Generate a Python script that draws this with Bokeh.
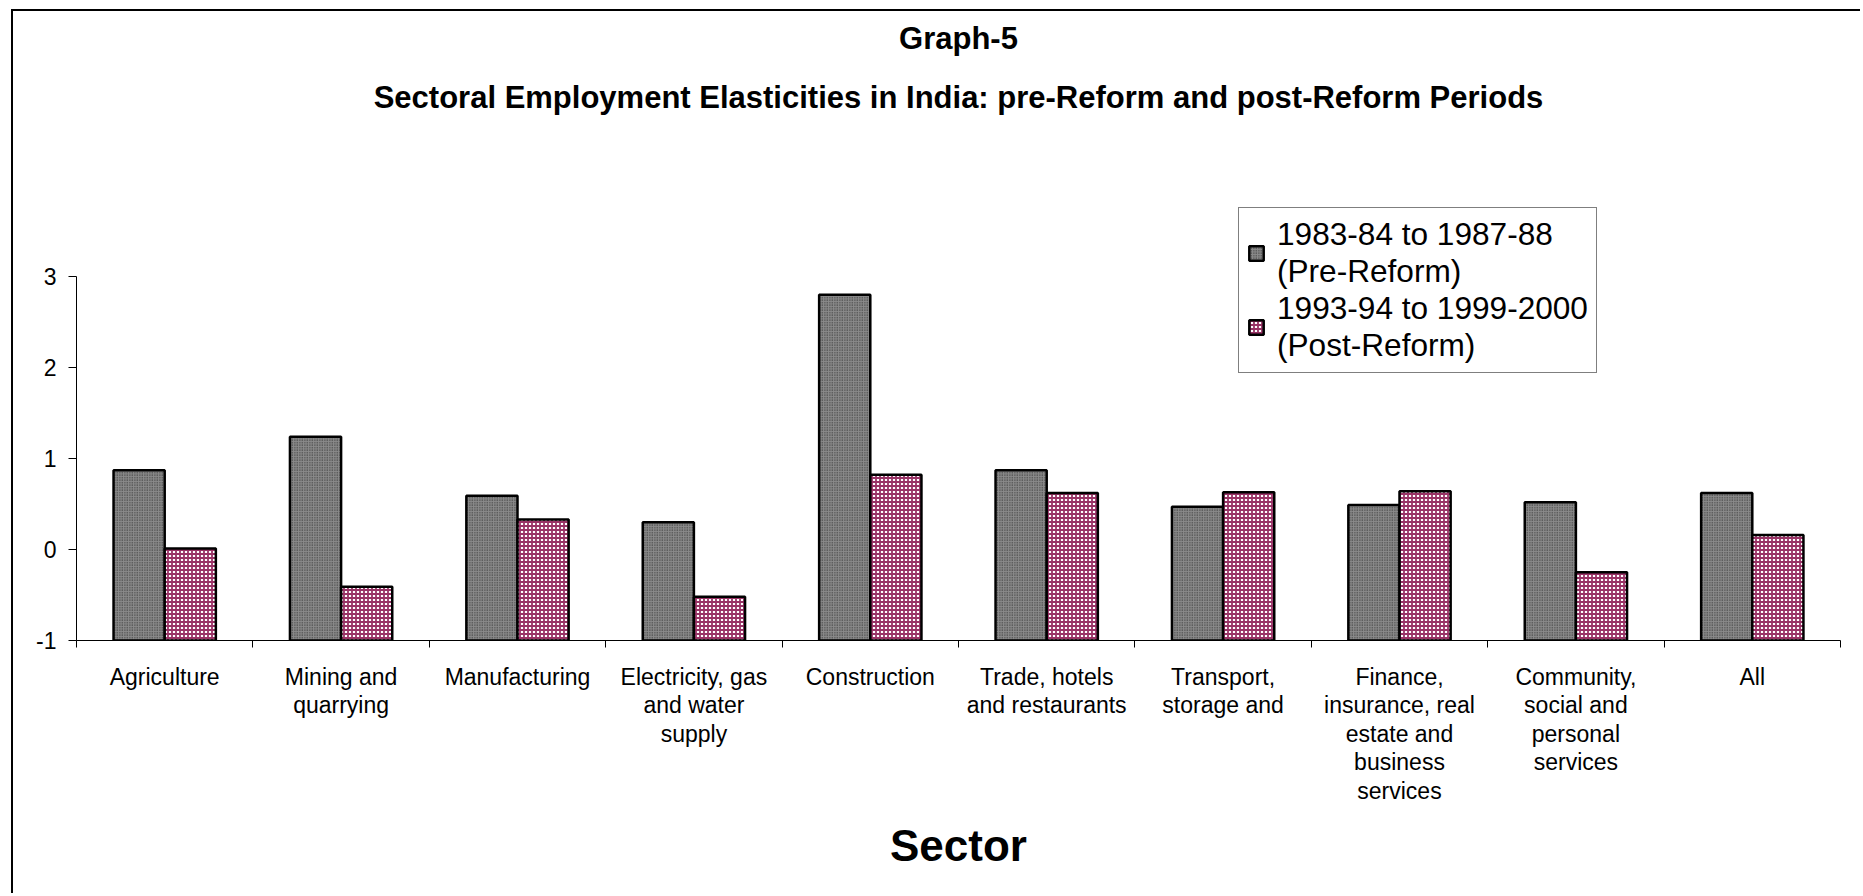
from bokeh.plotting import figure
from bokeh.models import Range1d, FixedTicker, Legend, LegendItem, Title, ColumnDataSource
from bokeh.embed import file_html
from bokeh.resources import INLINE

# ---------------- data ----------------
sectors = [
    "Agriculture",
    "Mining and\nquarrying",
    "Manufacturing",
    "Electricity, gas\nand water\nsupply",
    "Construction",
    "Trade, hotels\nand restaurants",
    "Transport,\nstorage and",
    "Finance,\ninsurance, real\nestate and\nbusiness\nservices",
    "Community,\nsocial and\npersonal\nservices",
    "All",
]
pre_reform = [0.87, 1.24, 0.59, 0.30, 2.80, 0.87, 0.47, 0.49, 0.52, 0.62]
post_reform = [0.01, -0.41, 0.33, -0.52, 0.82, 0.62, 0.63, 0.64, -0.25, 0.16]
series_labels = ["1983-84 to 1987-88\n(Pre-Reform)", "1993-94 to 1999-2000\n(Post-Reform)"]
y_ticks = [-1, 0, 1, 2, 3]
y_tick_labels = ["-1", "0", "1", "2", "3"]
title_main = "Graph-5"
title_sub = "Sectoral Employment Elasticities in India: pre-Reform and post-Reform Periods"
x_title = "Sector"

FONT = "Liberation Sans"
n = len(sectors)
centers = [i + 0.5 for i in range(n)]
bar_w = 0.29
axis_base = y_ticks[0]

pre_src = ColumnDataSource(dict(x=[c - bar_w / 2 for c in centers], top=pre_reform,
                                bottom=[axis_base] * n))
post_src = ColumnDataSource(dict(x=[c + bar_w / 2 for c in centers], top=post_reform,
                                 bottom=[axis_base] * n))

p = figure(width=1849, height=884, output_backend="svg", toolbar_location=None,
           x_range=Range1d(0, n), y_range=Range1d(-1, 3.846),
           min_border_left=63, min_border_right=22, min_border_top=188, min_border_bottom=255)
p.styles = {"border-top": "2px solid black", "border-left": "2px solid black",
            "margin-left": "11px", "margin-top": "9px"}
p.outline_line_color = None
p.xgrid.grid_line_color = None
p.ygrid.grid_line_color = None
p.background_fill_color = "white"
p.border_fill_color = "white"

r_pre = p.vbar(x="x", top="top", bottom="bottom", width=bar_w, source=pre_src,
               fill_color="#8a8a8a", line_color="black", line_width=2.5,
               hatch_pattern="dot", hatch_color="#2a2a2a", hatch_scale=2.5, hatch_weight=1)
r_post = p.vbar(x="x", top="top", bottom="bottom", width=bar_w, source=post_src,
                fill_color="white", line_color="black", line_width=2.5,
                hatch_pattern="+", hatch_color="#993366", hatch_scale=4, hatch_weight=1.8)

# y axis
p.yaxis.ticker = FixedTicker(ticks=y_ticks, minor_ticks=[])
p.yaxis.major_label_overrides = {t: s for t, s in zip(y_ticks, y_tick_labels)}
p.yaxis.bounds = (y_ticks[0], y_ticks[-1])
p.yaxis.major_tick_out = 8
p.yaxis.major_tick_in = 0
p.yaxis.major_label_standoff = 12
p.yaxis.major_label_text_font = FONT
p.yaxis.major_label_text_font_size = "23px"
p.yaxis.major_label_text_color = "black"
p.yaxis.axis_line_color = "black"
p.yaxis.major_tick_line_color = "black"

# x axis: labels at category centres, tick marks at category boundaries
p.xaxis.ticker = FixedTicker(ticks=centers, minor_ticks=list(range(n + 1)))
p.xaxis.major_label_overrides = {c: s for c, s in zip(centers, sectors)}
p.xaxis.major_tick_out = 0
p.xaxis.major_tick_in = 0
p.xaxis.minor_tick_out = 7
p.xaxis.minor_tick_in = 0
p.xaxis.minor_tick_line_color = "black"
p.xaxis.axis_line_color = "black"
p.xaxis.major_label_standoff = 16
p.xaxis.major_label_text_font = FONT
p.xaxis.major_label_text_font_size = "23px"
p.xaxis.major_label_text_color = "black"
p.xaxis.major_label_text_line_height = 1.1
p.xaxis.axis_label = x_title
p.xaxis.axis_label_text_font = FONT
p.xaxis.axis_label_text_font_size = "44px"
p.xaxis.axis_label_text_font_style = "bold"
p.xaxis.axis_label_text_color = "black"
p.xaxis.axis_label_standoff = 14

# titles: blank spacer nearest the plot, then the subtitle, then the main title on top
p.add_layout(Title(text=" ", text_font=FONT, text_font_size="31px",
                   align="center", standoff=31), "above")
p.add_layout(Title(text=title_sub, text_font=FONT, text_font_size="31px", text_font_style="bold",
                   text_color="black", align="center", standoff=34), "above")
p.add_layout(Title(text=title_main, text_font=FONT, text_font_size="31px", text_font_style="bold",
                   text_color="black", align="center", standoff=9), "above")

legend = Legend(items=[LegendItem(label=series_labels[0], renderers=[r_pre]),
                       LegendItem(label=series_labels[1], renderers=[r_post])],
                location=(1162, 267))
legend.label_text_font = FONT
legend.label_text_font_size = "31.6px"
legend.label_text_color = "black"
legend.label_text_line_height = 1.1
legend.glyph_width = 18
legend.glyph_height = 18
legend.label_standoff = 12
legend.spacing = 0
legend.padding = 8
legend.margin = 0
legend.border_line_color = "black"
legend.border_line_width = 1
legend.background_fill_alpha = 1
p.add_layout(legend, "center")

open("out.html", "w").write(file_html(p, INLINE))
